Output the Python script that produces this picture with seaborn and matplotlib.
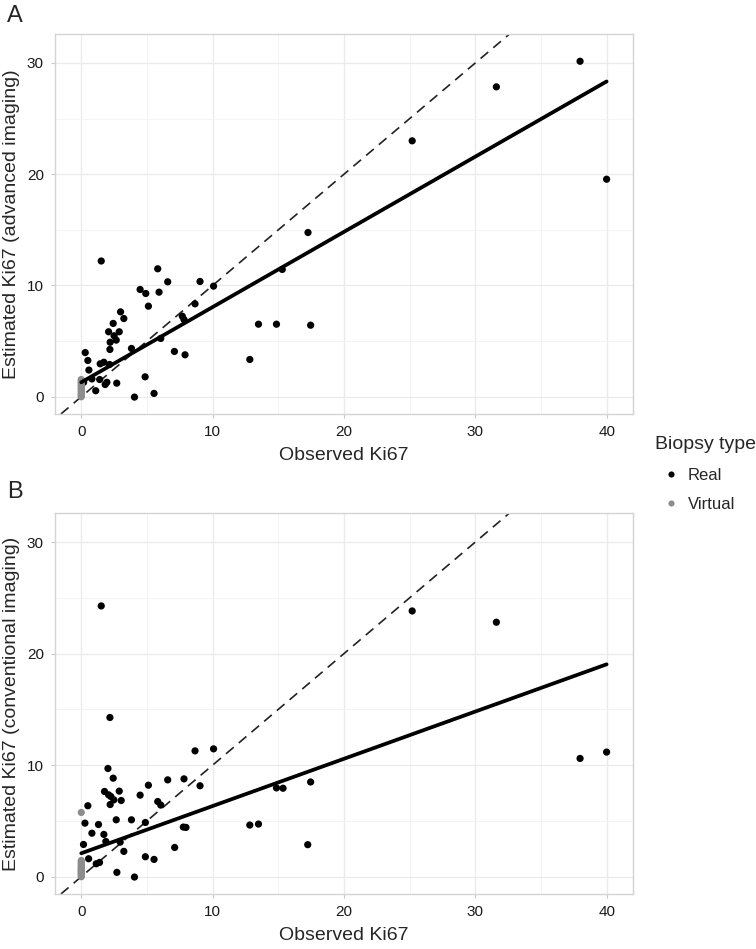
import matplotlib
matplotlib.use("Agg")
import matplotlib.pyplot as plt
from matplotlib.ticker import MultipleLocator
import seaborn as sns
import numpy as np
import pandas as pd

# valores: painel A (imagem avancada)
obs_real_a = [1.52, 0.3, 0.5, 0.58, 0.18, 0.81, 1.1, 1.4, 1.44, 1.72, 1.82, 1.95, 2.15, 2.7,
              2.18, 2.2, 2.08, 2.5, 2.66, 2.89, 2.43, 2.99, 3.24, 3.82, 4.05, 4.48, 4.91,
              5.11, 4.86, 5.54, 5.82, 5.92, 6.58, 6.05, 7.09, 7.9, 7.69, 7.82, 8.66, 9.04,
              10.07, 12.83, 13.49, 14.86, 17.46, 17.26, 15.3, 25.19, 31.6, 37.97, 39.99]
est_real_a = [12.2, 3.97, 3.26, 2.4, 1.3, 1.6, 0.54, 1.55, 2.96, 3.1, 1.1, 1.3, 2.9, 1.22,
              4.25, 4.9, 5.84, 5.48, 5.09, 5.84, 6.59, 7.63, 7.03, 4.34, -0.03, 9.64, 9.28,
              8.14, 1.79, 0.3, 11.5, 9.4, 10.33, 5.24, 4.07, 3.77, 7.24, 6.94, 8.35, 10.36,
              9.94, 3.35, 6.52, 6.52, 6.43, 14.76, 11.44, 23.0, 27.85, 30.15, 19.55]
est_virtual_a = [0.0, 0.1, 0.2, 0.3, 0.45, 0.55, 0.7, 0.8, 0.95, 1.05, 1.2, 1.3, 1.45, 1.55]

# painel B (imagem convencional)
obs_real_b = [1.52, 2.18, 2.03, 2.43, 0.5, 0.28, 1.31, 0.81, 1.72, 0.17, 1.87, 0.56, 1.14,
              1.39, 2.71, 4.05, 1.77, 2.08, 2.25, 2.2, 2.48, 2.89, 3.04, 2.66, 2.96, 3.24,
              3.82, 4.48, 4.88, 5.11, 4.88, 5.54, 5.82, 6.05, 6.58, 7.82, 7.11, 7.77, 7.97,
              9.04, 8.66, 10.07, 12.83, 13.49, 14.86, 15.36, 17.46, 17.24, 25.19, 31.6,
              37.97, 39.99]
est_real_b = [24.27, 14.27, 9.7, 8.83, 6.36, 4.8, 4.68, 3.9, 3.79, 2.89, 3.16, 1.61, 1.16,
              1.28, 0.39, -0.03, 7.64, 7.34, 7.19, 6.47, 6.89, 7.67, 6.83, 5.1, 3.1, 2.27,
              5.1, 7.31, 4.86, 8.2, 1.79, 1.55, 6.74, 6.42, 8.68, 8.77, 2.62, 4.45, 4.42,
              8.15, 11.28, 11.46, 4.63, 4.72, 7.96, 7.93, 8.49, 2.87, 23.82, 22.81, 10.6,
              11.17]
est_virtual_b = [0.0, 0.1, 0.2, 0.3, 0.4, 0.5, 0.6, 0.7, 0.8, 0.9, 1.0, 1.15, 1.3, 1.45, 5.76]

# reta de regressao (intercepto, inclinacao)
ajuste_a = [1.3, 0.676]
ajuste_b = [2.1, 0.4235]

tipos = ["Real", "Virtual"]
cores = {"Real": "#000000", "Virtual": "#8c8c8c"}


def monta_df(obs_real, est_real, est_virtual):
    real = pd.DataFrame({"obs": obs_real, "est": est_real, "tipo": "Real"})
    virt = pd.DataFrame({"obs": [0.0] * len(est_virtual), "est": est_virtual, "tipo": "Virtual"})
    return pd.concat([real, virt], ignore_index=True)


df_a = monta_df(obs_real_a, est_real_a, est_virtual_a)
df_b = monta_df(obs_real_b, est_real_b, est_virtual_b)

sns.set_theme(style="whitegrid")
plt.rcParams["font.family"] = ["Liberation Sans", "DejaVu Sans"]

fig = plt.figure(figsize=(7.56, 9.49), dpi=100)
ax_a = fig.add_axes([55 / 756, 1 - 414 / 949, 578 / 756, 380 / 949])
ax_b = fig.add_axes([55 / 756, 1 - 894 / 949, 578 / 756, 381 / 949])

paineis = [(ax_a, df_a, ajuste_a, "Estimated Ki67 (advanced imaging)"),
           (ax_b, df_b, ajuste_b, "Estimated Ki67 (conventional imaging)")]

for ax, df, ajuste, ylab in paineis:
    ax.axline((0, 0), slope=1, color="#222222", lw=1.2, ls=(0, (6, 4)), zorder=2)
    sns.scatterplot(data=df, x="obs", y="est", hue="tipo", hue_order=tipos, palette=cores,
                    s=27, linewidth=0, ax=ax, zorder=3)
    xs = np.array([df["obs"].min(), df["obs"].max()])
    sns.lineplot(x=xs, y=ajuste[0] + ajuste[1] * xs, color="black", lw=2.7, ax=ax, zorder=4)
    ax.set_xlim(-2, 42)
    ax.set_ylim(-1.55, 32.6)
    ax.xaxis.set_major_locator(MultipleLocator(10))
    ax.xaxis.set_minor_locator(MultipleLocator(5))
    ax.yaxis.set_major_locator(MultipleLocator(10))
    ax.yaxis.set_minor_locator(MultipleLocator(5))
    ax.grid(which="major", color="#ebebeb", lw=1.0)
    ax.grid(which="minor", color="#f3f3f3", lw=0.6)
    ax.set_axisbelow(True)
    for sp in ax.spines.values():
        sp.set_color("#d4d4d4")
        sp.set_linewidth(1.0)
    ax.tick_params(which="major", length=3, width=0.8, color="#c8c8c8",
                   labelsize=11, labelcolor="#1a1a1a", pad=5, bottom=True, left=True)
    ax.tick_params(which="minor", length=0)
    ax.set_xlabel("Observed Ki67", fontsize=14, labelpad=6)
    ax.set_ylabel(ylab, fontsize=14, labelpad=5)

handles, labels = ax_a.get_legend_handles_labels()
ax_a.get_legend().remove()
ax_b.get_legend().remove()
leg = fig.legend(handles, labels, title="Biopsy type", loc="center left",
                 bbox_to_anchor=(648 / 756, 1 - 474 / 949), frameon=False,
                 fontsize=12, title_fontsize=14, handletextpad=0.0,
                 markerscale=0.85, labelspacing=0.85, borderaxespad=0)
leg._legend_box.align = "left"

fig.text(7 / 756, 1 - 16 / 949, "A", fontsize=17, va="center", ha="left")
fig.text(7 / 756, 1 - 492 / 949, "B", fontsize=17, va="center", ha="left")

fig.savefig("out.png", dpi=100)
